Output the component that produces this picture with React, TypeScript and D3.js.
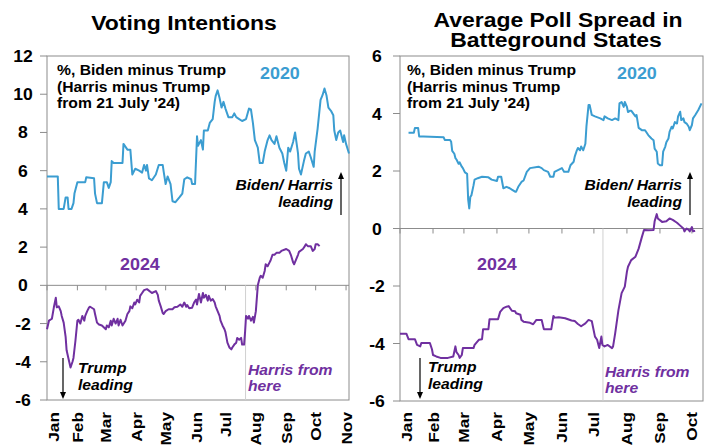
import React from 'react';
import * as d3 from 'd3';

// ---------- DATA ----------
const monthNames = ['Jan', 'Feb', 'Mar', 'Apr', 'May', 'Jun', 'Jul', 'Aug', 'Sep', 'Oct', 'Nov'];
const leftYTicks = [-6, -4, -2, 0, 2, 4, 6, 8, 10, 12];
const rightYTicks = [-6, -4, -2, 0, 2, 4, 6];

// Voting intentions, 2020 (Biden minus Trump); days since 1 Jan
const votDays2020 = [0,11,12,17,19,21,22,25,27,28,31,39,40,48,49,51,56,58,61,63,65,66,68,77,78,82,85,87,90,94,97,99,101,102,104,107,111,114,118,119,121,123,126,128,131,135,138,140,143,147,148,151,153,154,157,159,160,164,166,169,171,172,174,176,178,180,182,185,189,191,193,196,199,203,206,208,210,212,215,217,220,222,225,227,229,232,234,237,240,242,244,246,248,251,253,256,257,259,262,264,267,269,272,273,276,279,281,283,285,287,290,292,293,295,297,299,302,303,305,308];
const votVals2020 = [5.7,5.7,4.0,4.0,4.6,4.6,4.0,4.0,4.3,4.8,5.4,5.4,5.65,5.6,4.8,4.3,4.3,5.4,5.4,5.1,5.4,6.5,6.4,6.4,7.4,7.1,7.1,5.8,6.1,6.0,5.9,6.3,6.0,6.3,5.6,5.5,5.8,6.3,6.3,5.95,5.3,5.7,5.3,4.4,4.35,4.6,4.8,5.55,5.65,5.55,5.3,5.3,7.8,7.3,7.6,7.1,8.1,8.1,8.5,8.7,9.6,9.9,10.2,9.8,9.3,9.6,9.25,8.8,8.8,9.0,8.8,8.7,8.6,8.7,9.25,9.2,8.5,7.6,7.2,6.4,6.4,7.0,7.6,7.85,7.6,7.4,7.8,7.2,6.9,6.4,6.0,7.2,7.0,7.5,8.0,6.9,6.1,5.8,6.5,6.9,7.0,6.7,6.2,7.0,8.2,9.7,9.95,10.3,9.95,9.3,9.1,8.9,8.1,7.6,8.0,8.1,7.5,7.85,7.4,6.9];

// Voting intentions, 2024 (Biden/Harris minus Trump)
const votDays2024 = [0,2,5,7,9,10,12,14,15,17,19,20,22,24,26,27,29,31,32,34,36,38,39,41,43,44,48,49,51,53,56,60,61,63,65,66,68,70,72,73,75,77,80,82,84,85,87,89,90,92,94,95,97,99,102,107,111,113,114,116,118,119,121,124,128,130,133,136,138,140,142,143,145,148,150,152,153,155,157,159,160,162,164,165,167,169,171,172,174,176,177,179,181,182,184,186,188,189,191,193,194,196,198,199,201,202,203,205,206,208,210,211,213,215,217,218,220,222,223,225,227,228,230,232,234,237,239,244,247,249,251,252,254,256,257,261,263,264,266,269,271,273,274,276,278];
const votVals2024 = [-2.3,-1.85,-1.75,-1.15,-0.65,-1.15,-1.1,-1.35,-1.6,-1.95,-2.7,-3.4,-3.85,-4.3,-4.0,-3.8,-2.9,-1.85,-1.8,-2.0,-1.6,-1.85,-1.6,-1.35,-1.15,-1.12,-1.25,-1.5,-1.95,-2.05,-2.1,-2.3,-2.1,-2.2,-1.85,-2.1,-1.75,-2.0,-1.75,-2.1,-1.8,-2.1,-1.85,-1.5,-1.35,-1.1,-1.2,-0.9,-1.0,-0.75,-0.9,-0.55,-0.4,-0.25,-0.2,-0.4,-0.3,-0.5,-0.8,-1.1,-1.45,-1.5,-1.35,-1.25,-1.25,-1.15,-1.12,-1.0,-1.12,-0.9,-1.12,-1.03,-1.2,-1.17,-0.9,-0.75,-1.0,-0.45,-0.9,-0.4,-0.65,-0.5,-0.8,-0.55,-0.8,-0.72,-0.9,-1.1,-1.35,-1.6,-1.85,-2.1,-2.3,-2.45,-3.0,-3.25,-3.35,-3.25,-3.1,-3.0,-2.75,-2.85,-2.75,-3.1,-3.1,-2.45,-1.6,-1.75,-1.6,-1.85,-1.65,-1.95,-1.35,0.0,0.4,0.5,0.4,0.75,1.1,1.0,1.2,1.3,1.6,1.6,1.7,1.7,1.8,1.9,1.8,1.55,1.2,1.1,1.35,1.6,1.75,1.9,2.05,2.15,2.05,2.05,1.8,1.9,2.15,2.15,2.05];

// Battleground states poll spread, 2020
const bgDays2020 = [8,13,14,17,18,22,41,42,47,48,49,51,52,53,55,56,58,59,61,63,64,65,66,67,69,70,73,77,83,86,91,92,95,97,100,103,105,108,109,111,114,116,119,122,130,133,135,139,141,144,145,152,154,158,160,163,164,166,167,169,170,172,174,175,177,178,180,183,188,191,192,195,199,202,205,206,208,210,211,213,214,216,217,221,222,224,227,230,233,236,238,239,241,242,244,246,247,249,250,252,253,255,256,258,260,261,263,264,266,267,269,271,272,274,275,277,278,280,283];
const bgVals2020 = [3.33,3.33,3.5,3.5,3.2,3.2,3.17,3.08,3.08,3.02,2.7,2.6,2.45,2.4,2.25,2.3,2.15,2.1,1.95,1.9,1.0,0.7,1.1,1.15,1.5,1.7,1.75,1.8,1.78,1.7,1.65,1.8,1.8,1.4,1.45,1.4,1.35,1.28,1.28,1.45,1.62,1.67,1.97,2.1,2.15,2.1,2.03,1.97,1.8,1.8,1.97,2.1,1.97,1.97,2.2,2.32,2.5,2.72,2.8,2.72,2.85,2.72,2.95,3.55,4.3,4.3,3.95,3.9,3.83,3.77,3.9,3.83,3.77,3.83,3.77,4.35,4.4,4.23,4.4,4.23,4.05,4.1,4.1,3.9,3.95,3.5,3.42,3.42,3.25,3.13,3.07,2.78,2.67,2.26,2.2,2.2,2.67,2.85,3.0,3.13,3.36,3.54,3.48,3.7,3.65,3.9,4.06,3.77,3.83,3.7,3.65,3.54,3.42,3.6,3.83,3.94,4.0,4.12,4.35];

// Battleground states poll spread, 2024
const bgDays2024 = [0,6,8,14,16,19,20,28,30,31,34,38,45,50,52,53,55,56,58,59,69,70,74,77,78,83,84,92,94,97,100,102,105,108,109,113,114,116,122,125,128,133,135,142,144,145,149,155,161,164,167,170,174,177,180,181,183,185,187,189,190,192,195,199,200,202,205,208,211,213,214,217,221,224,227,229,233,238,239,241,242,246,250,253,256,260,263,266,267,269,271,272,274,275,277];
const bgVals2024 = [-3.66,-3.66,-3.85,-3.85,-4.05,-4.1,-3.98,-3.98,-4.2,-4.4,-4.45,-4.5,-4.5,-4.45,-4.1,-4.3,-4.4,-4.5,-4.4,-4.16,-4.16,-4.05,-3.87,-3.85,-3.5,-3.5,-3.16,-3.16,-2.9,-2.77,-2.72,-2.7,-2.86,-2.88,-2.95,-3.0,-3.18,-3.24,-3.28,-3.33,-3.18,-3.18,-3.5,-3.5,-3.04,-3.1,-3.09,-3.12,-3.2,-3.22,-3.32,-3.4,-3.3,-3.18,-3.22,-3.4,-3.76,-3.87,-4.16,-3.76,-4.05,-4.1,-4.05,-4.16,-4.1,-3.64,-2.85,-2.25,-2.02,-1.5,-1.33,-1.1,-0.98,-0.7,-0.3,-0.05,-0.06,-0.05,0.25,0.5,0.35,0.23,0.25,0.35,0.3,0.2,0.1,0.0,-0.1,0.0,-0.05,-0.1,0.05,-0.1,-0.08];

// ---------- STYLE ----------
const BLUE = '#3b9dd1';
const PURPLE = '#7030a0';
const AXIS = '#8c8c8c';
const FONT = "'Liberation Sans', Arial, sans-serif";
const SX = 1.12;

const base = Date.UTC(2024, 0, 1);
const dayDate = (d: number) => new Date(base + d * 864e5);

function Txt(props: any) {
  const { x, y, size = 14, anchor = 'start', fill = '#000', italic = false, rotate = 0, sx = SX, children } = props;
  return (
    <text
      transform={`translate(${x},${y}) rotate(${rotate}) scale(${sx},1)`}
      textAnchor={anchor}
      fontSize={size}
      fontWeight="bold"
      fontStyle={italic ? 'italic' : 'normal'}
      fill={fill}
      fontFamily={FONT}
    >
      {children}
    </text>
  );
}

function Arrow({ x, y1, y2 }: any) {
  // arrow from y1 (tail) to y2 (head)
  const dir = y2 < y1 ? -1 : 1;
  const hy = y2;
  return (
    <g>
      <line x1={x} x2={x} y1={y1} y2={hy - dir * 5} stroke="#000" strokeWidth={1.2} />
      <path d={`M${x},${hy} L${x - 3},${hy - dir * 7} L${x + 3},${hy - dir * 7} Z`} fill="#000" />
    </g>
  );
}

function Panel(cfg: any) {
  const { left, right, top, bottom, yDomain, yTicks, endDay, harrisDay, tickLabelX, series, ann } = cfg;
  const x = d3.scaleUtc().domain([dayDate(0), dayDate(endDay)]).range([left, right]);
  const y = d3.scaleLinear().domain(yDomain).range([bottom, top]);
  const months = d3.utcMonths(dayDate(0), dayDate(endDay)).concat(
    dayDate(endDay).getUTCDate() === 1 ? [dayDate(endDay)] : []
  );
  const line = d3
    .line<[number, number]>()
    .x((d) => x(dayDate(d[0])))
    .y((d) => y(d[1]))
    .curve(d3.curveLinear);
  const y0 = y(0);
  return (
    <g>
      {/* plot box */}
      <rect x={left} y={top} width={right - left} height={bottom - top} fill="none" stroke={AXIS} strokeWidth={1} />
      {/* y ticks + labels */}
      {yTicks.map((t: number) => (
        <g key={t}>
          <line x1={left - 7} x2={left} y1={y(t)} y2={y(t)} stroke={AXIS} />
          <Txt x={tickLabelX} y={y(t) + 6} size={16} anchor="middle" sx={1.1}>
            {String(t).replace('-', '-')}
          </Txt>
        </g>
      ))}
      {/* zero axis with month ticks */}
      <line x1={left} x2={right} y1={y0} y2={y0} stroke={AXIS} />
      {months.map((m: Date, i: number) => (
        <line key={i} x1={x(m)} x2={x(m)} y1={y0} y2={y0 + 5} stroke={AXIS} />
      ))}
      {/* Harris line */}
      <line x1={x(dayDate(harrisDay))} x2={x(dayDate(harrisDay))} y1={y0} y2={bottom} stroke="#d0d0d0" strokeWidth={1} />
      {/* month labels */}
      {months.map((m: Date, i: number) => {
        const mx = Math.max(x(m), left + 6);
        return (
          <Txt key={i} x={mx + 5.5} y={412} size={15} anchor="end" rotate={-90} sx={1.15}>
            {monthNames[m.getUTCMonth()]}
          </Txt>
        );
      })}
      {/* series */}
      {series.map((s: any, i: number) => (
        <path key={i} d={line(d3.zip(s.days, s.vals) as any) || ''} fill="none" stroke={s.color} strokeWidth={2} strokeLinejoin="round" />
      ))}
      {/* annotations */}
      <Txt x={ann.noteX} y={75} size={14}>%, Biden minus Trump</Txt>
      <Txt x={ann.noteX} y={91.5} size={14}>(Harris minus Trump</Txt>
      <Txt x={ann.noteX} y={108} size={14}>from 21 July '24)</Txt>
      <Txt x={ann.y2020X} y={79} size={16} fill={BLUE}>2020</Txt>
      <Txt x={ann.leadX} y={190} size={14} anchor="end" italic>Biden/ Harris</Txt>
      <Txt x={ann.leadX} y={207} size={14} anchor="end" italic>leading</Txt>
      <Arrow x={ann.upArrowX} y1={215} y2={172} />
      <Txt x={ann.y2024X} y={270} size={16} fill={PURPLE}>2024</Txt>
      <Txt x={ann.trumpX} y={ann.trumpY} size={14} italic>Trump</Txt>
      <Txt x={ann.trumpX} y={ann.trumpY + 17} size={14} italic>leading</Txt>
      <Arrow x={ann.downArrowX} y1={358} y2={399} />
      <Txt x={ann.harrisX} y={ann.harrisY} size={14} italic fill={PURPLE}>Harris from</Txt>
      <Txt x={ann.harrisX} y={ann.harrisY + 16} size={14} italic fill={PURPLE}>here</Txt>
    </g>
  );
}

export default function App() {
  return (
    <svg width={715} height={446} style={{ position: 'absolute', left: 0, top: 0, background: '#fff' }}>
      <rect width={715} height={446} fill="#fff" />
      <Txt x={184} y={30} size={20.5} anchor="middle">Voting Intentions</Txt>
      <Txt x={558} y={27} size={20.5} anchor="middle">Average Poll Spread in</Txt>
      <Txt x={556} y={47} size={20.5} anchor="middle">Batteground States</Txt>
      <Panel
        left={47}
        right={349}
        top={56}
        bottom={400}
        yDomain={[-6, 12]}
        yTicks={leftYTicks}
        endDay={308}
        harrisDay={202.5}
        tickLabelX={23}
        series={[
          { days: votDays2020, vals: votVals2020, color: BLUE },
          { days: votDays2024, vals: votVals2024, color: PURPLE },
        ]}
        ann={{ noteX: 57, y2020X: 260, leadX: 333, upArrowX: 341, y2024X: 120, trumpX: 78, trumpY: 373, downArrowX: 63, harrisX: 248, harrisY: 375 }}
      />
      <Panel
        left={400}
        right={703}
        top={56}
        bottom={401}
        yDomain={[-6, 6]}
        yTicks={rightYTicks}
        endDay={284.4}
        harrisDay={190.5}
        tickLabelX={377}
        series={[
          { days: bgDays2020, vals: bgVals2020, color: BLUE },
          { days: bgDays2024, vals: bgVals2024, color: PURPLE },
        ]}
        ann={{ noteX: 407, y2020X: 617, leadX: 682, upArrowX: 690, y2024X: 477, trumpX: 428, trumpY: 372, downArrowX: 420, harrisX: 605, harrisY: 377 }}
      />
    </svg>
  );
}
